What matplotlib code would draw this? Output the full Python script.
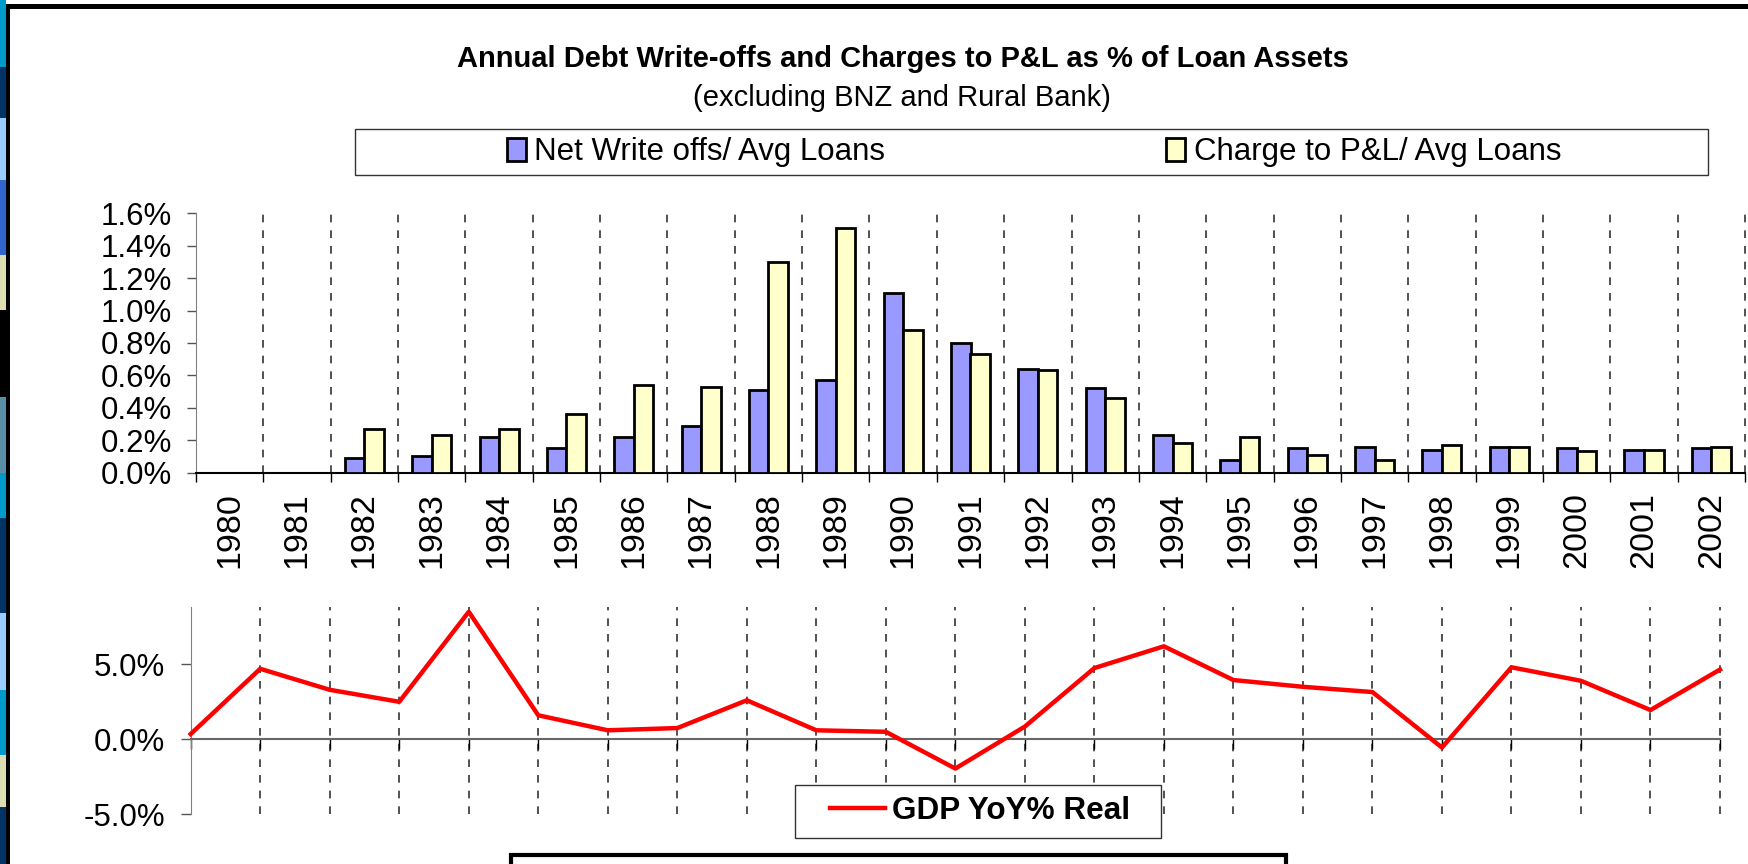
import numpy as np
import matplotlib.pyplot as plt
from matplotlib.patches import Rectangle

plt.rcParams['font.family'] = ['Liberation Sans', 'DejaVu Sans']

# data (values in %)
years = ['1980', '1981', '1982', '1983', '1984', '1985', '1986', '1987', '1988', '1989', '1990', '1991',
         '1992', '1993', '1994', '1995', '1996', '1997', '1998', '1999', '2000', '2001', '2002']
net_writeoffs = [np.nan, np.nan, 0.09, 0.10, 0.22, 0.15, 0.22, 0.29, 0.51, 0.57, 1.11, 0.80,
                 0.64, 0.52, 0.23, 0.08, 0.15, 0.16, 0.14, 0.16, 0.15, 0.14, 0.15]
charge_pl = [np.nan, np.nan, 0.27, 0.23, 0.27, 0.36, 0.54, 0.53, 1.30, 1.51, 0.88, 0.73,
             0.63, 0.46, 0.18, 0.22, 0.11, 0.08, 0.17, 0.16, 0.13, 0.14, 0.16]
gdp_real = [0.35, 4.7, 3.3, 2.5, 8.5, 1.6, 0.6, 0.75, 2.6, 0.6, 0.5, -1.95,
            0.85, 4.75, 6.2, 3.95, 3.5, 3.15, -0.55, 4.8, 3.9, 1.95, 4.65]

W, H = 1748, 864
fig = plt.figure(figsize=(W / 100, H / 100), dpi=100)


def px_rect(x0, y0, x1, y1, **kw):
    # rectangle given in image pixels (y from top)
    r = Rectangle((x0 / W, 1 - y1 / H), (x1 - x0) / W, (y1 - y0) / H,
                  transform=fig.transFigure, **kw)
    fig.add_artist(r)
    return r


# slide background strip on the left
strip = [(0, 67, '#0099CC'), (67, 118, '#003366'), (118, 180, '#99CCFF'), (180, 255, '#3366CC'),
         (255, 310, '#DDDDB3'), (310, 397, '#000000'), (397, 473, '#5A8FA8'), (473, 518, '#0099CC'),
         (518, 613, '#003366'), (613, 690, '#99CCFF'), (690, 755, '#0099CC'), (755, 807, '#DDDDB3'),
         (807, 864, '#003366')]
for y0, y1, c in strip:
    px_rect(0, y0, 6, y1, facecolor=c, edgecolor='none', zorder=0)
px_rect(6, 4, W, 9, facecolor='black', edgecolor='none', zorder=0)
px_rect(6, 4, 10, H, facecolor='black', edgecolor='none', zorder=0)

# top chart
ax1 = fig.add_axes([196 / W, 1 - 472.5 / H, (1745 - 196) / W, (472.5 - 213.3) / H])
x = np.arange(len(years))
bw = 0.29
b1 = ax1.bar(x - bw / 2, net_writeoffs, bw, color='#9999FF', edgecolor='black', linewidth=2.0,
             label='Net Write offs/ Avg Loans', zorder=3)
b2 = ax1.bar(x + bw / 2, charge_pl, bw, color='#FFFFCC', edgecolor='black', linewidth=2.0,
             label='Charge to P&L/ Avg Loans', zorder=3)
ax1.set_xlim(-0.5, len(years) - 0.5)
ax1.set_ylim(0, 1.6)
ax1.vlines(x + 0.5, 0, 1.6, colors='#333333', linestyles=(0, (4.6, 4.8)), linewidth=1.2,
           clip_on=False, zorder=1)
ax1.set_yticks(np.arange(0, 1.61, 0.2))
ax1.set_yticklabels([f'{v:.1f}%' for v in np.arange(0, 1.61, 0.2)])
ax1.set_xticks(np.arange(-0.5, len(years), 1))
ax1.set_xticklabels([])
ax1.set_xticks(x, minor=True)
ax1.set_xticklabels(years, minor=True, rotation=90, fontsize=24.5)
ax1.tick_params(axis='x', which='major', length=6.5, width=1, direction='out', color='black')
ax1.tick_params(axis='x', which='minor', length=0, pad=14)
ax1.tick_params(axis='y', length=6.5, width=1, color='#555555', labelsize=22.5, pad=11)
for s in ['top', 'right']:
    ax1.spines[s].set_visible(False)
ax1.spines['left'].set_color('#808080')
ax1.spines['bottom'].set_linewidth(1.5)

# top legend
px_rect(355, 129, 1708, 175, facecolor='white', edgecolor='#333333', linewidth=1, zorder=1)
fig.legend(handles=[b1, b2], loc='center', bbox_to_anchor=(1034 / W, 1 - 152 / H), ncol=2,
           frameon=False, fontsize=22.5, handlelength=0.6, handleheight=0.75, handletextpad=0.27,
           columnspacing=9.0)

fig.text(903 / W, 1 - 59 / H, 'Annual Debt Write-offs and Charges to P&L as % of Loan Assets',
         ha='center', va='center', fontsize=21, fontweight='bold')
fig.text(902 / W, 1 - 98 / H, '(excluding BNZ and Rural Bank)', ha='center', va='center', fontsize=21)

# bottom chart
ax2 = fig.add_axes([190.7 / W, 1 - 814.3 / H, (1720 - 190.7) / W, (814.3 - 607.3) / H])
ln, = ax2.plot(x, gdp_real, color='#FF0000', linewidth=3.2, label='GDP YoY% Real', clip_on=False, zorder=3)
ax2.set_xlim(0, len(years) - 1)
ax2.set_ylim(-5, 8.8)
ax2.vlines(x[1:], -5, 8.8, colors='#333333', linestyles=(0, (4.6, 4.8)), linewidth=1.2,
           clip_on=False, zorder=1)
ax2.set_yticks([-5, 0, 5])
ax2.set_yticklabels(['-5.0%', '0.0%', '5.0%'])
ax2.set_xticks(x)
ax2.set_xticklabels([])
ax2.tick_params(axis='x', length=7.5, width=1, direction='out', color='black')
ax2.tick_params(axis='y', length=7.5, width=1, color='#555555', labelsize=22.5, pad=11)
for s in ['top', 'right']:
    ax2.spines[s].set_visible(False)
ax2.spines['bottom'].set_position(('data', 0))
ax2.spines['bottom'].set_color('#666666')
ax2.spines['bottom'].set_linewidth(1.5)
ax2.spines['left'].set_color('#808080')

# bottom legend
px_rect(795, 785, 1161, 838, facecolor='white', edgecolor='#333333', linewidth=1, zorder=2)
fig.legend(handles=[ln], loc='center', bbox_to_anchor=(980 / W, 1 - 811 / H), frameon=False,
           prop={'size': 22.7, 'weight': 'bold'}, handlelength=1.75, handletextpad=0.24)

# box at the bottom edge
px_rect(511, 855, 1286, H + 20, facecolor='white', edgecolor='black', linewidth=3, zorder=2)

fig.savefig('out.png', dpi=100)
